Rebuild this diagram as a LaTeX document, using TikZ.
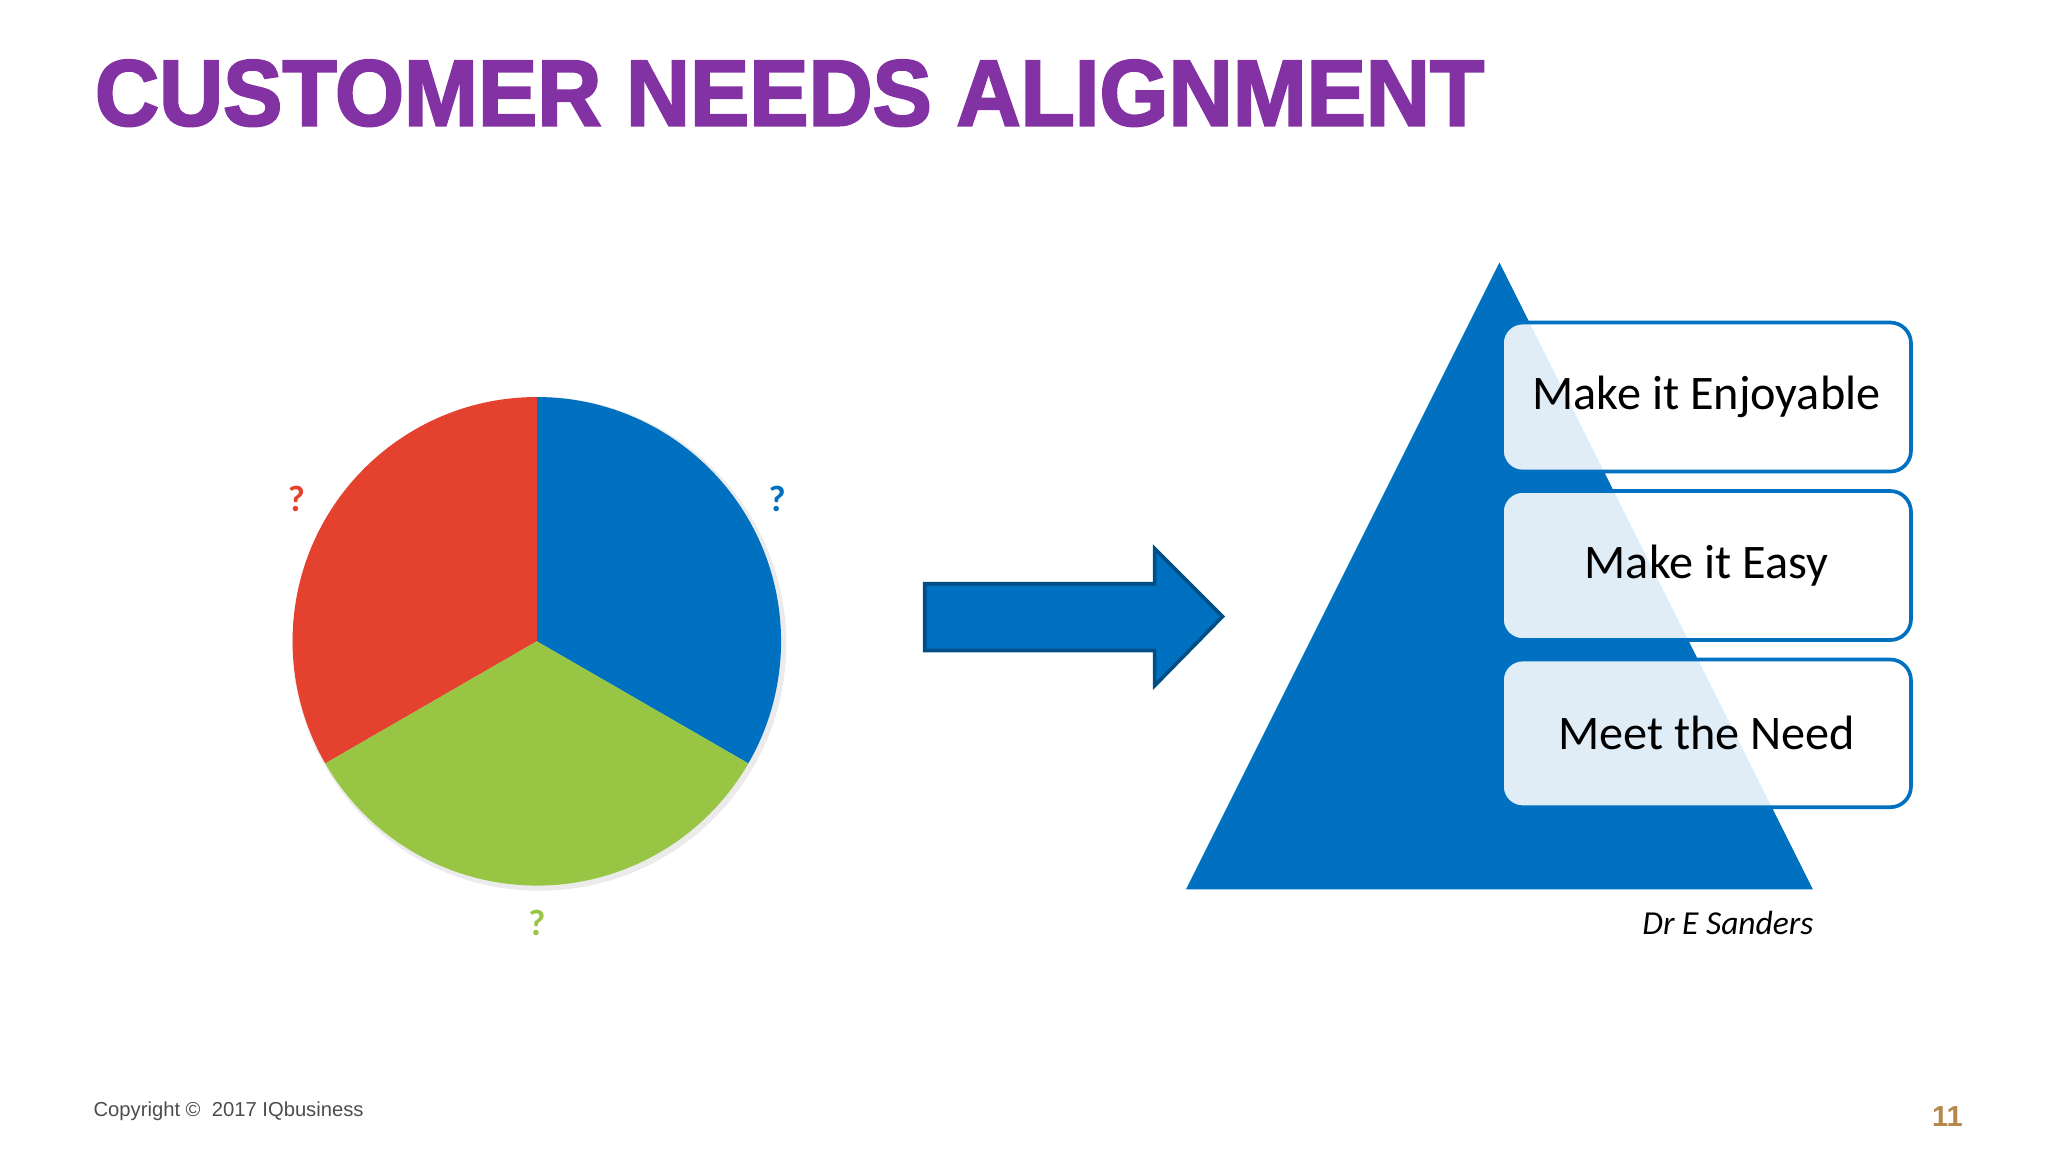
\documentclass[tikz,border=0pt]{standalone}
\usepackage{fontspec}
\setmainfont{Carlito}
\newfontfamily\titlefont[FakeBold=2.5]{Liberation Sans Bold}
\newfontfamily\arialf{Liberation Sans}
\definecolor{pblue}{HTML}{0070C0}
\definecolor{pred}{HTML}{E5412F}
\definecolor{pgreen}{HTML}{98C544}
\definecolor{ppurple}{HTML}{8232A3}
\definecolor{pgold}{HTML}{B4874A}
\tikzset{lvl/.style={draw=pblue,line width=0.8pt,fill=white,fill opacity=0.88,text opacity=1,rounded corners=4.5pt,minimum width=3.13cm, font=\fontsize{10.5}{12}\selectfont},
q/.style={font=\bfseries\fontsize{8}{10}\selectfont}}
\begin{document}
\begin{tikzpicture}[x=0.01cm,y=0.01cm]
\useasboundingbox (0,0) rectangle (1568,882);
\node[anchor=base west,inner sep=0,text=ppurple] (title) at (72,786) {\resizebox{10.63cm}{0.5cm}{\titlefont CUSTOMER NEEDS ALIGNMENT}};
% pie
\coordinate (c) at (411,391);
\fill[black!8] (413,389) circle (189);
\fill[pblue] (c) -- ++(90:187) arc (90:-30:187) -- cycle;
\fill[pred] (c) -- ++(90:187) arc (90:210:187) -- cycle;
\fill[pgreen] (c) -- ++(210:187) arc (210:330:187) -- cycle;
\node[q,text=pred] (qr) at (227,500) {?};
\node[q,text=pblue] (qb) at (595,500) {?};
\node[q,text=pgreen] (qg) at (411,175) {?};
% arrow
\draw[fill=pblue,draw=pblue!70!black,line width=0.8pt] (708,435) -- (884,435) -- (884,462) -- (936,410) -- (884,357) -- (884,384) -- (708,384) -- cycle;
% triangle
\fill[pblue] (1148,681) -- (1388,201) -- (908,201) -- cycle;
\node[lvl,minimum height=1.14cm] (b1) at (1306.5,578) {Make it Enjoyable};
\node[lvl,minimum height=1.14cm] (b2) at (1306.5,449) {Make it Easy};
\node[lvl,minimum height=1.13cm] (b3) at (1306.5,320.5) {Meet the Need};
\node[font=\itshape\fontsize{7.3}{9}\selectfont] (auth) at (1323,175) {Dr E Sanders};
\node[anchor=west,inner sep=0,text=black!70,font=\arialf\fontsize{4.4}{5}\selectfont] (copy) at (71,31) {Copyright \textcopyright{}\ \ 2017 IQbusiness};
\node[text=pgold,font=\arialf\bfseries\fontsize{6.3}{8}\selectfont] (pg) at (1491,27) {11};
\end{tikzpicture}
\end{document}
